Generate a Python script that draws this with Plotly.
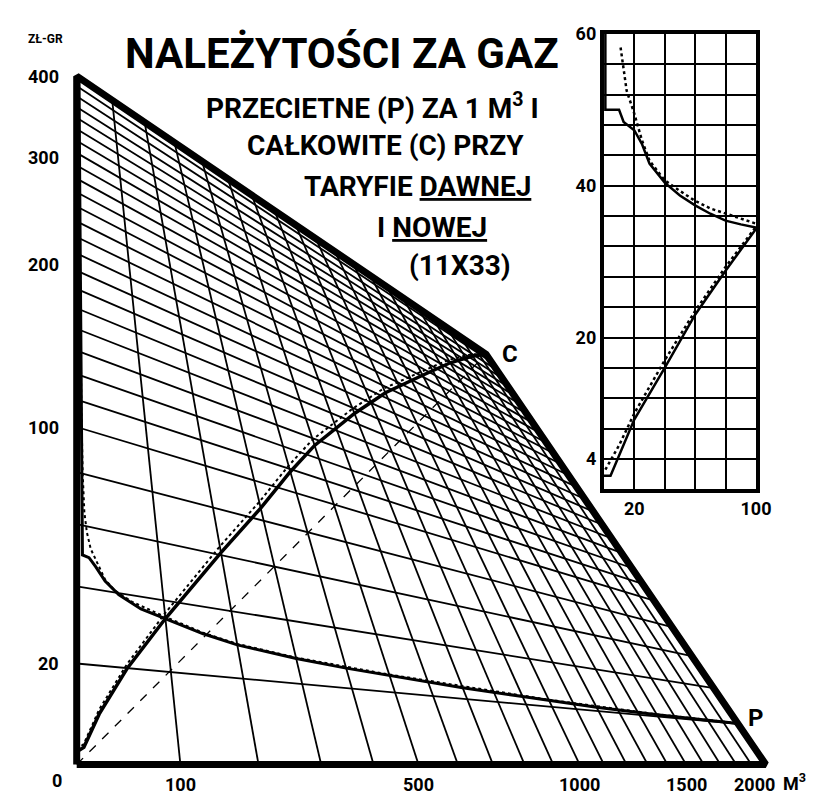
import numpy as np
import plotly.graph_objects as go

# ---- data --------------------------------------------------------------
# main chart: consumption (m3) vs average price P (gr per m3) and total C (zl)
q_p_new = [6, 6, 13, 20, 30, 45, 70, 100, 150, 200, 300, 400, 500, 700, 900, 1000, 1200, 1500, 1800, 2000]
p_new = [400, 50, 49.5, 47, 43, 39.5, 36.3, 34.5, 31.5, 29.5, 27.5, 26.3, 25.5, 24, 23, 22.5, 21.6, 20.8, 20.3, 20.2]

q_p_old = [4.5, 4.8, 5.2, 6, 7, 8.5, 11, 15, 20, 30, 40, 60, 100, 150, 200, 300, 500, 1000, 1500, 2000]
p_old = [400, 250, 160, 110, 80, 65, 58, 52.5, 49.5, 43.5, 40.7, 38, 35, 31.8, 29.8, 27.8, 25.8, 22.8, 21.1, 20.4]

q_c = [0, 6, 20, 50, 100, 150, 200, 300, 400, 500, 700, 900, 1000, 1200, 1500, 1800, 2000]
c_new = [2.2, 3, 9.4, 20, 34.5, 48, 61, 86, 112, 136, 177, 215, 232, 266, 318, 368, 400]
c_old = [2.6, 3.6, 10.3, 21, 36, 50, 63.5, 89, 115.5, 140, 181, 219, 236, 270, 322, 371, 400]

# reference line 20 gr / m3
q_ref = [0, 2000]
c_ref = [0, 400]

# inset: first 100 m3
qi_p_new = [1, 1, 10, 13, 20, 25, 30, 40, 50, 60, 70, 80, 90, 100]
pi_new = [60, 50, 50, 48.4, 47.3, 45.5, 42.9, 40.4, 38.7, 37.4, 36.3, 35.4, 34.9, 34.5]
qi_p_old = [11, 15, 20, 25, 30, 40, 50, 60, 70, 80, 90, 100]
pi_old = [58.2, 52.5, 49.5, 46, 43.3, 40.7, 39.3, 38, 37, 36.3, 35.6, 35]
qi_c_new = [0, 4.4, 20, 40, 60, 80, 100]
ci_new = [1.8, 1.8, 9.2, 16, 23, 28.8, 34.3]
qi_c_old = [1, 10, 20, 40, 60, 80, 100]
ci_old = [2.6, 5.8, 10, 17, 23.5, 29.3, 34.6]

q_ticks = [100, 500, 1000, 1500]
v_ticks = [400, 300, 200, 100, 20]

# ---- nomogram frame (screen units, 1 unit = 1 px) ----------------------
W, H = 816, 794
BL, TL, TR, BR = (70, 756), (70, 58), (487, 340), (772, 756)
Q_MAX, V_MAX = 2000, 400
K_BOT, K_TOP, K_LEFT, K_RIGHT = 260, 1000, 55, 140


def project(q, v):
    q = np.asarray(q, float)
    v = np.asarray(v, float)
    fb = np.log1p(q / K_BOT) / np.log1p(Q_MAX / K_BOT)
    ft = np.log1p(q / K_TOP) / np.log1p(Q_MAX / K_TOP)
    fl = np.log1p(v / K_LEFT) / np.log1p(V_MAX / K_LEFT)
    fr = np.log1p(v / K_RIGHT) / np.log1p(V_MAX / K_RIGHT)
    bx, by = BL[0] + fb * (BR[0] - BL[0]), BL[1] + fb * (BR[1] - BL[1])
    tx, ty = TL[0] + ft * (TR[0] - TL[0]), TL[1] + ft * (TR[1] - TL[1])
    lx, ly = BL[0] + fl * (TL[0] - BL[0]), BL[1] + fl * (TL[1] - BL[1])
    rx, ry = BR[0] + fr * (TR[0] - BR[0]), BR[1] + fr * (TR[1] - BR[1])
    d1x, d1y = tx - bx, ty - by
    d2x, d2y = rx - lx, ry - ly
    s = ((lx - bx) * d2y - (ly - by) * d2x) / (d1x * d2y - d1y * d2x)
    return bx + s * d1x, by + s * d1y


FONT = "Roboto, Liberation Sans, sans-serif"
fig = go.Figure()

# grid: lines of constant m3 and of constant value
gx, gy = [], []
for q in range(100, Q_MAX, 100):
    x, y = project([q, q], [0, V_MAX])
    gx += list(x) + [None]
    gy += list(y) + [None]
v_grid = [20, 40, 60, 80] + list(np.linspace(100, V_MAX, 23)[:-1])
for v in v_grid:
    x, y = project([0, Q_MAX], [v, v])
    gx += list(x) + [None]
    gy += list(y) + [None]
fig.add_trace(go.Scatter(x=gx, y=gy, mode="lines", line=dict(color="black", width=1.8),
                         hoverinfo="skip", showlegend=False))

x, y = project(q_ref, c_ref)
fig.add_trace(go.Scatter(x=x, y=y, mode="lines", line=dict(color="black", width=1.3, dash="dash"),
                         showlegend=False))

# outline
x, y = project([0, 0, Q_MAX, Q_MAX, 0], [0, V_MAX, V_MAX, 0, 0])
fig.add_trace(go.Scatter(x=x, y=y, mode="lines", line=dict(color="black", width=7),
                         showlegend=False))

# curves
for qs, vs, w, d in [(q_c, c_old, 2, "dot"), (q_c, c_new, 3.5, "solid"),
                     (q_p_old, p_old, 2, "dot"), (q_p_new, p_new, 3, "solid")]:
    x, y = project(qs, vs)
    fig.add_trace(go.Scatter(x=x, y=y, mode="lines", line=dict(color="black", width=w, dash=d),
                             showlegend=False))

# inset
for qs, vs, w, d in [(qi_p_old, pi_old, 2.5, "dot"), (qi_p_new, pi_new, 2.5, "solid"),
                     (qi_c_old, ci_old, 2.5, "dot"), (qi_c_new, ci_new, 2.5, "solid")]:
    fig.add_trace(go.Scatter(x=qs, y=vs, mode="lines", xaxis="x2", yaxis="y2",
                             line=dict(color="black", width=w, dash=d), showlegend=False))

# labels
ann = []
lab = dict(family=FONT, size=18, color="black", weight="bold")
for v in v_ticks:
    _, y = project(0, v)
    ann.append(dict(x=54, y=float(y), text=str(v), xanchor="right", yanchor="middle",
                    showarrow=False, font=lab))
ann.append(dict(x=50, y=772, text="0", showarrow=False, font=lab))
for q in q_ticks:
    x, _ = project(q, 0)
    ann.append(dict(x=float(x), y=776, text=str(q), showarrow=False, font=lab))
ann.append(dict(x=760, y=776, text="2000", showarrow=False, font=lab))
ann.append(dict(x=801, y=774, text="M<sup>3</sup>", showarrow=False, font=lab))
ann.append(dict(x=38, y=20, text="ZŁ-GR", showarrow=False,
                font=dict(family=FONT, size=12, color="black", weight="bold")))
x, y = project(Q_MAX, V_MAX)
ann.append(dict(x=float(x) + 24, y=float(y), text="C", showarrow=False,
                font=dict(family=FONT, size=24, color="black", weight="bold")))
x, y = project(Q_MAX, p_new[-1])
ann.append(dict(x=float(x) + 18, y=float(y) - 6, text="P", showarrow=False,
                font=dict(family=FONT, size=24, color="black", weight="bold")))

ann.append(dict(x=340, y=35, text="NALEŻYTOŚCI ZA GAZ", showarrow=False,
                font=dict(family=FONT, size=42, color="black", weight="bold")))
sub = dict(family=FONT, size=28, color="black", weight="bold")
for txt, cx, cy in [("PRZECIETNE (P) ZA 1 M<sup>3</sup> I", 371, 89),
                    ("CAŁKOWITE (C) PRZY", 385, 128),
                    ("TARYFIE <u>DAWNEJ</u>", 417, 170),
                    ("I <u>NOWEJ</u>", 432, 211),
                    ("(11X33)", 460, 250)]:
    ann.append(dict(x=cx, y=cy, text=txt, showarrow=False, font=sub))
for a in ann:
    a.update(xref="x", yref="y")

tick_font = dict(family=FONT, size=18, color="black", weight="bold")
fig.update_layout(
    width=W, height=H, margin=dict(l=0, r=0, t=0, b=0),
    paper_bgcolor="white", plot_bgcolor="white", showlegend=False,
    annotations=ann,
    xaxis=dict(domain=[0, 1], range=[0, W], visible=False, fixedrange=True),
    yaxis=dict(domain=[0, 1], range=[H, 0], visible=False, fixedrange=True),
    xaxis2=dict(domain=[607 / W, 762 / W], anchor="y2", range=[0, 100],
                tickvals=[20, 100], ticks="", showgrid=True, gridcolor="black", gridwidth=1.5,
                minor=dict(dtick=20, showgrid=True, gridcolor="black", gridwidth=1.5),
                showline=True, mirror=True, linecolor="black", linewidth=4, zeroline=False,
                tickfont=tick_font),
    yaxis2=dict(domain=[(H - 477) / H, (H - 15) / H], anchor="x2", range=[0, 60],
                tickvals=[4, 20, 40, 60], ticks="", showgrid=True, gridcolor="black", gridwidth=1.5,
                minor=dict(dtick=4, showgrid=True, gridcolor="black", gridwidth=1.5),
                showline=True, mirror=True, linecolor="black", linewidth=4, zeroline=False,
                tickfont=tick_font),
)

fig.write_html("out.html")
